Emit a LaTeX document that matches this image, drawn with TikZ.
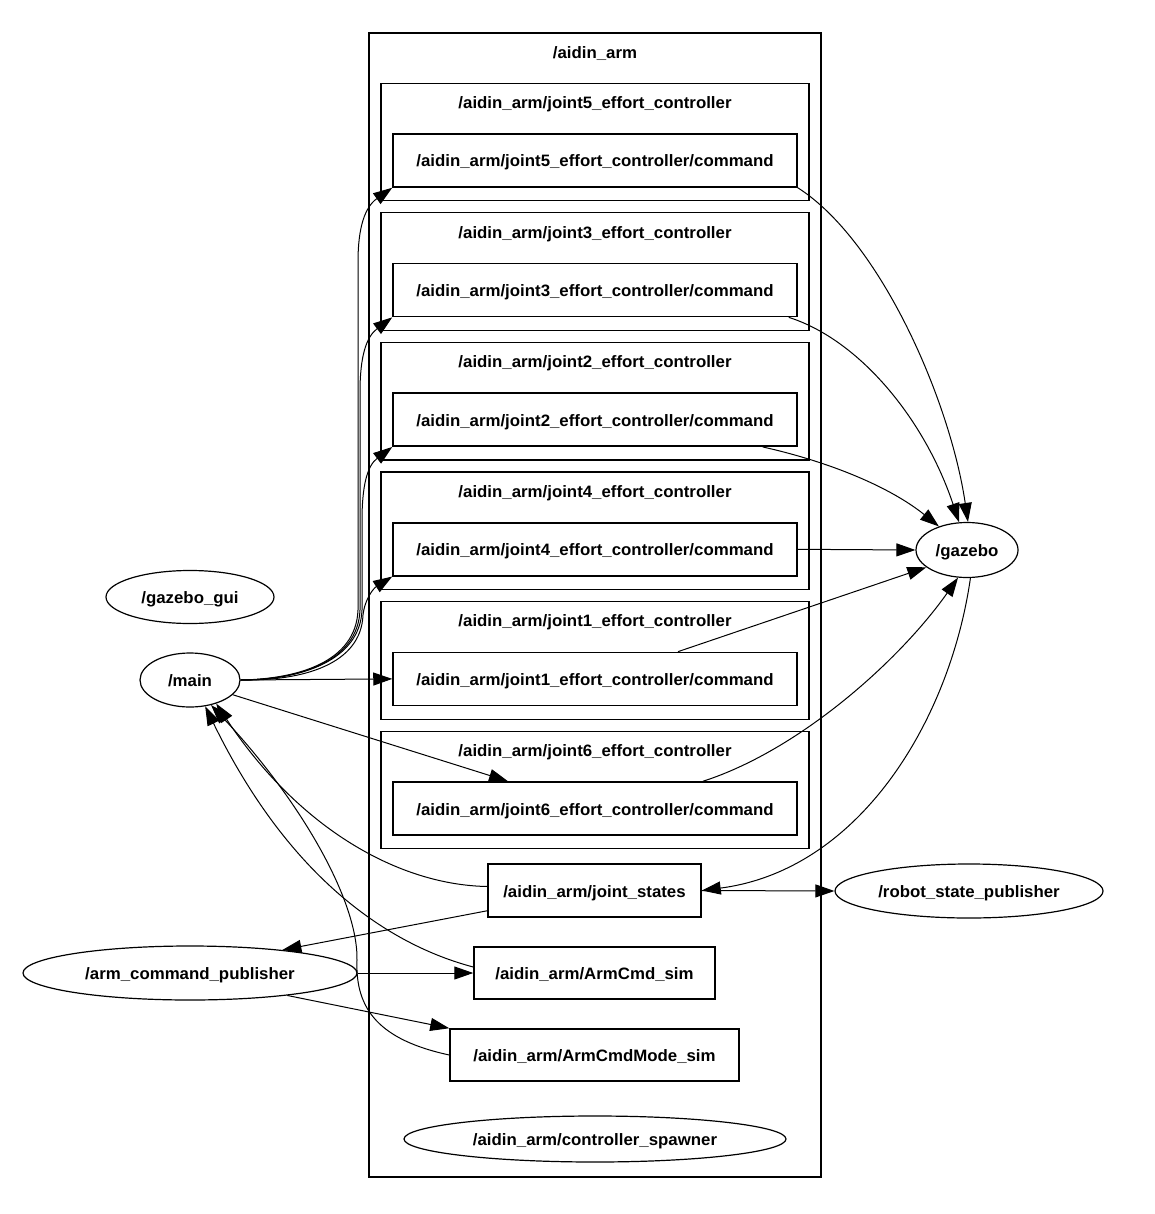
\documentclass[tikz,border=0pt]{standalone}
\usepackage{fontspec}
\newfontfamily\gvfont[FakeStretch=1.02]{Liberation Sans}
\usetikzlibrary{arrows.meta,shapes.geometric,calc}
\tikzset{
  gv/.style={font=\gvfont\bfseries\fontsize{16.5}{19}\selectfont, text height=13pt, text depth=0pt},
  cluster/.style={draw, line width=1.3pt, inner sep=0pt},
  cmd/.style={draw, line width=1.5pt, inner sep=0pt, gv},
  ell/.style={draw, ellipse, line width=1.2pt, inner sep=0pt, gv},
  lab/.style={gv, inner sep=0pt},
  edge/.style={line width=1pt, -{Triangle[length=19pt,width=13pt]}},
}
\begin{document}
\begin{tikzpicture}[x=1pt,y=-1pt]
\useasboundingbox (0,0) rectangle (1154,1214);
\fill[white] (0,0) rectangle (1154,1214);

% outer cluster
\node[cluster, minimum width=452pt, minimum height=1144pt] (arm) at (595,605) {};
\node[lab] (armlab) at (595,52) {/aidin\_arm};

% inner clusters
\foreach \k/\j in {0/5,1/3,2/2,3/4,4/1,5/6}{
  \node[cluster, minimum width=428pt, minimum height=117.5pt] (c\j) at (595,{142+129.6*\k}) {};
  \node[lab] (c\j lab) at (595,{102+129.6*\k}) {/aidin\_arm/joint\j\_effort\_controller};
  \node[cmd, minimum width=404pt, minimum height=53pt] (j\j cmd) at (595,{160.5+129.6*\k}) {/aidin\_arm/joint\j\_effort\_controller/command};
}

\node[cmd, minimum width=213pt, minimum height=53pt] (js) at (594.5,890.5) {/aidin\_arm/joint\_states};
\node[cmd, minimum width=241pt, minimum height=52pt] (acs) at (594.5,973) {/aidin\_arm/ArmCmd\_sim};
\node[cmd, minimum width=289pt, minimum height=52pt] (acms) at (594.5,1055) {/aidin\_arm/ArmCmdMode\_sim};
\node[ell, minimum width=382pt, minimum height=46pt] (spawner) at (595,1139) {/aidin\_arm/controller\_spawner};

\node[ell, minimum width=102pt, minimum height=55pt] (gazebo) at (967,550) {/gazebo};
\node[ell, minimum width=168pt, minimum height=53pt] (gui) at (190,597) {/gazebo\_gui};
\node[ell, minimum width=100pt, minimum height=54pt] (main) at (190,680) {/main};
\node[ell, minimum width=268pt, minimum height=54pt] (rsp) at (969,891) {/robot\_state\_publisher};
\node[ell, minimum width=334pt, minimum height=54pt] (acp) at (190,973) {/arm\_command\_publisher};

% main -> commands
\draw[edge] (main.east) .. controls (298,679) and (356,662) .. (358,610) -- (358,262) .. controls (358,227) and (365,207) .. (j5cmd.south west);
\draw[edge] (main.east) .. controls (300,680) and (358,661) .. (360,610) -- (360,392) .. controls (360,357) and (366,337) .. (j3cmd.south west);
\draw[edge] (main.east) .. controls (302,680) and (360,660) .. (362,610) -- (362,521) .. controls (362,486) and (367,466) .. (j2cmd.south west);
\draw[edge] (main.east) .. controls (304,681) and (361,664) .. (363,615) .. controls (365,598) and (374,588) .. (j4cmd.south west);
\draw[edge] (main.east) -- (j1cmd.west);
\draw[edge] (main.-19) -- ($(j6cmd.north)+(-87,0)$);

% commands -> gazebo
\draw[edge] (j5cmd.south east) .. controls (880,240) and (950,400) .. (gazebo.88);
\draw[edge] ($(j3cmd.south east)+(-9,0)$) .. controls (860,340) and (925,420) .. (gazebo.106);
\draw[edge] ($(j2cmd.south east)+(-35,0)$) .. controls (830,462) and (890,487) .. (gazebo.140);
\draw[edge] (j4cmd.east) -- (gazebo.west);
\draw[edge] ($(j1cmd.north)+(83,0)$) -- (gazebo.203);
\draw[edge] ($(j6cmd.north)+(108,0)$) .. controls (800,750) and (900,660) .. (gazebo.252);

% gazebo -> joint_states -> rsp
\draw[edge] (gazebo.-83) .. controls (950,720) and (860,870) .. (js.east);
\draw[edge] (js.east) -- (rsp.west);

% joint_states -> main, acp
\draw[edge] ($(js.west)+(0,-4)$) .. controls (400,885) and (300,830) .. (main.-42);
\draw[edge] ($(js.south west)+(0,-7)$) -- (acp.14);

% acp -> sims
\draw[edge] (acp.east) -- (acs.west);
\draw[edge] (acp.-13) -- (acms.north west);

% sims -> main
\draw[edge] ($(acs.west)+(0,-6)$) .. controls (390,945) and (290,880) .. (main.-60);
\draw[edge] (acms.west) .. controls (380,1040) and (355,1010) .. (357,960) .. controls (358,900) and (300,800) .. (main.-50);
\end{tikzpicture}
\end{document}
